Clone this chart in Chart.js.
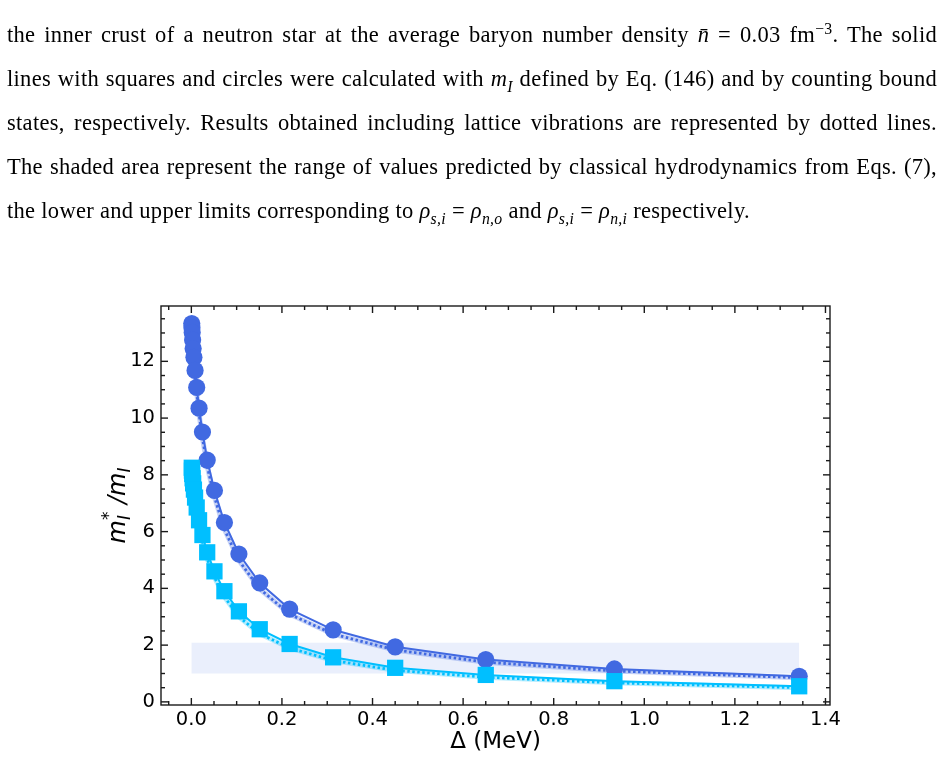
<!DOCTYPE html>
<html>
<head>
<meta charset="utf-8">
<script src="https://cdn.jsdelivr.net/npm/chart.js@4.4.1/dist/chart.umd.min.js"></script>
<style>
  html, body { margin: 0; padding: 0; background: #fff; }
  body { width: 944px; height: 778px; position: relative; overflow: hidden; }
  #caption {
    position: absolute; left: 7px; top: 13px; width: 930px;
    font-family: "Liberation Serif", "Times New Roman", serif;
    font-size: 22.5px; letter-spacing: 0.3px; line-height: 44px; color: #000; z-index: 2;
  }
  #caption .line { text-align: justify; text-align-last: justify; height: 44px; }
  #caption .line.last { text-align-last: left; }
  #caption sub, #caption sup { font-size: 70%; line-height: 0; }
  #wrap { position: absolute; left: 0; top: 0; width: 944px; height: 778px; }
</style>
</head>
<body>
<div id="caption">
  <div class="line">the inner crust of a neutron star at the average baryon number density <i>n̄</i> = 0.03 fm<sup>−3</sup>. The solid</div>
  <div class="line">lines with squares and circles were calculated with <i>m<sub>I</sub></i> defined by Eq. (146) and by counting bound</div>
  <div class="line">states, respectively. Results obtained including lattice vibrations are represented by dotted lines.</div>
  <div class="line">The shaded area represent the range of values predicted by classical hydrodynamics from Eqs. (7),</div>
  <div class="line last">the lower and upper limits corresponding to <i>ρ<sub>s,i</sub></i> = <i>ρ<sub>n,o</sub></i> and <i>ρ<sub>s,i</sub></i> = <i>ρ<sub>n,i</sub></i> respectively.</div>
</div>
<div id="wrap"><canvas id="chart" width="944" height="778"></canvas></div>
<script>
const deltaMeV = [0.0009, 0.0013, 0.0019, 0.0028, 0.004, 0.0057, 0.0082, 0.0118, 0.017, 0.0245,
  0.035, 0.051, 0.073, 0.105, 0.151, 0.217, 0.313, 0.45, 0.65, 0.934, 1.342];

// counting bound states (circles)
const boundStates = [13.33, 13.18, 13.02, 12.75, 12.45, 12.14, 11.68, 11.08, 10.35, 9.51,
  8.52, 7.45, 6.32, 5.21, 4.19, 3.27, 2.54, 1.94, 1.49, 1.16, 0.9];
const boundStatesLattice = [13.2, 13.05, 12.88, 12.6, 12.3, 11.97, 11.5, 10.9, 10.15, 9.3,
  8.3, 7.22, 6.08, 4.98, 3.98, 3.09, 2.39, 1.83, 1.4, 1.09, 0.85];

// m_I from Eq. (146) (squares)
const eq146 = [8.25, 8.15, 8.03, 7.88, 7.7, 7.48, 7.2, 6.85, 6.4, 5.88,
  5.27, 4.6, 3.9, 3.19, 2.56, 2.04, 1.57, 1.2, 0.95, 0.73, 0.55];
const eq146Lattice = [8.1, 8.0, 7.88, 7.72, 7.53, 7.3, 7.0, 6.65, 6.18, 5.65,
  5.04, 4.38, 3.7, 3.0, 2.4, 1.9, 1.46, 1.11, 0.87, 0.67, 0.5];

// classical hydrodynamics range
const hydroDelta = [0, 1.342];
const hydroLower = 1.0;
const hydroUpper = [2.08, 2.08];

const xTickLabels = [0, 0.2, 0.4, 0.6, 0.8, 1.0, 1.2, 1.4];
const yTickLabels = [0, 2, 4, 6, 8, 10, 12];

const royal = "#4169e1";
const sky = "#00bfff";
const font = "DejaVu Sans";

const pairs = (xs, ys) => xs.map((x, i) => ({ x, y: ys[i] }));

const range = (start, stop, step) => {
  const out = [];
  for (let v = start; v <= stop + 1e-9; v += step) {
    out.push(Math.round(v * 1000) / 1000);
  }
  return out;
};

const xMinor = range(-0.05, 1.4, 0.05);
const yMinor = range(0, 13.5, 0.5);

const frameTicks = {
  id: "frameTicks",
  afterDraw: (chart) => {
    const { ctx, chartArea: a, scales } = chart;
    const x = scales.x;
    const y = scales.y;
    ctx.save();
    ctx.strokeStyle = "#1a1a1a";
    ctx.lineWidth = 1.4;
    ctx.strokeRect(a.left, a.top, a.right - a.left, a.bottom - a.top);

    const seg = (x1, y1, x2, y2) => {
      ctx.beginPath();
      ctx.moveTo(x1, y1);
      ctx.lineTo(x2, y2);
      ctx.stroke();
    };

    xMinor.forEach((v) => {
      const p = x.getPixelForValue(v);
      if (p < a.left || p > a.right) return;
      const len = xTickLabels.some((t) => Math.abs(t - v) < 1e-6) ? 7 : 4;
      seg(p, a.bottom, p, a.bottom - len);
      seg(p, a.top, p, a.top + len);
    });

    yMinor.forEach((v) => {
      const p = y.getPixelForValue(v);
      if (p < a.top || p > a.bottom) return;
      const len = yTickLabels.some((t) => Math.abs(t - v) < 1e-6) ? 7 : 4;
      seg(a.left, p, a.left + len, p);
      seg(a.right, p, a.right - len, p);
    });
    ctx.restore();

    // y axis title: m_I^* /m_I
    ctx.save();
    ctx.translate(125, (a.top + a.bottom) / 2);
    ctx.rotate(-Math.PI / 2);
    ctx.fillStyle = "#000";
    ctx.textBaseline = "alphabetic";
    const big = "italic 24px " + font;
    const small = "italic 17px " + font;
    const parts = [
      { t: "m", f: big, dy: 0, adv: true },
      { t: "I", f: small, dy: 5, adv: false },
      { t: "*", f: small, dy: -11, adv: true },
      { t: " /m", f: big, dy: 0, adv: true },
      { t: "I", f: small, dy: 5, adv: true },
    ];
    let total = 0;
    parts.forEach((p) => {
      ctx.font = p.f;
      if (p.adv) total += ctx.measureText(p.t).width;
    });
    let cx = -total / 2;
    parts.forEach((p) => {
      ctx.font = p.f;
      ctx.fillText(p.t, cx, p.dy);
      if (p.adv) cx += ctx.measureText(p.t).width;
    });
    ctx.restore();
  },
};

new Chart(document.getElementById("chart"), {
  data: {
    datasets: [
      {
        backgroundColor: sky,
        borderColor: sky,
        borderWidth: 2,
        data: pairs(deltaMeV, eq146),
        pointBorderWidth: 0,
        pointRadius: 11.5,
        pointStyle: "rect",
        showLine: true,
      },
      {
        backgroundColor: royal,
        borderColor: royal,
        borderWidth: 2,
        data: pairs(deltaMeV, boundStates),
        pointBorderWidth: 0,
        pointRadius: 8.6,
        pointStyle: "circle",
        showLine: true,
      },
      {
        borderCapStyle: "butt",
        borderColor: sky,
        borderDash: [2.5, 2.5],
        borderWidth: 2.8,
        data: pairs(deltaMeV, eq146Lattice),
        pointRadius: 0,
        showLine: true,
      },
      {
        borderColor: "rgba(0, 191, 255, 0.3)",
        borderWidth: 5,
        data: pairs(deltaMeV, eq146Lattice),
        pointRadius: 0,
        showLine: true,
      },
      {
        borderCapStyle: "butt",
        borderColor: royal,
        borderDash: [2.5, 2.5],
        borderWidth: 2.8,
        data: pairs(deltaMeV, boundStatesLattice),
        pointRadius: 0,
        showLine: true,
      },
      {
        borderColor: "rgba(65, 105, 225, 0.3)",
        borderWidth: 5,
        data: pairs(deltaMeV, boundStatesLattice),
        pointRadius: 0,
        showLine: true,
      },
      {
        backgroundColor: "rgba(65, 105, 225, 0.11)",
        borderWidth: 0,
        data: pairs(hydroDelta, hydroUpper),
        fill: { target: { value: hydroLower } },
        pointRadius: 0,
        showLine: true,
      },
    ],
  },
  options: {
    animation: false,
    responsive: false,
    elements: { line: { tension: 0 } },
    layout: { padding: { top: 306, right: 114, left: 0, bottom: 0 } },
    plugins: {
      legend: { display: false },
      tooltip: { enabled: false },
    },
    scales: {
      x: {
        type: "linear",
        min: -0.067,
        max: 1.41,
        afterBuildTicks: (scale) => {
          scale.ticks = xTickLabels.map((value) => ({ value }));
        },
        afterFit: (scale) => {
          scale.height = 73;
        },
        border: { display: false },
        grid: { display: false, drawTicks: false },
        ticks: {
          autoSkip: false,
          callback: (value) => Number(value).toFixed(1),
          color: "#000",
          font: { family: font, size: 19.5 },
          maxRotation: 0,
          padding: 3,
        },
        title: {
          color: "#000",
          display: true,
          font: { family: font, size: 23 },
          padding: { top: 0, bottom: 22 },
          text: "Δ (MeV)",
        },
      },
      y: {
        type: "linear",
        min: -0.11,
        max: 13.95,
        afterBuildTicks: (scale) => {
          scale.ticks = yTickLabels.map((value) => ({ value }));
        },
        afterFit: (scale) => {
          scale.width = 161;
        },
        border: { display: false },
        grid: { display: false, drawTicks: false },
        ticks: {
          autoSkip: false,
          callback: (value) => String(value),
          color: "#000",
          font: { family: font, size: 19.5 },
          padding: 6,
        },
      },
    },
  },
  plugins: [frameTicks],
  type: "scatter",
});
</script>
</body>
</html>
